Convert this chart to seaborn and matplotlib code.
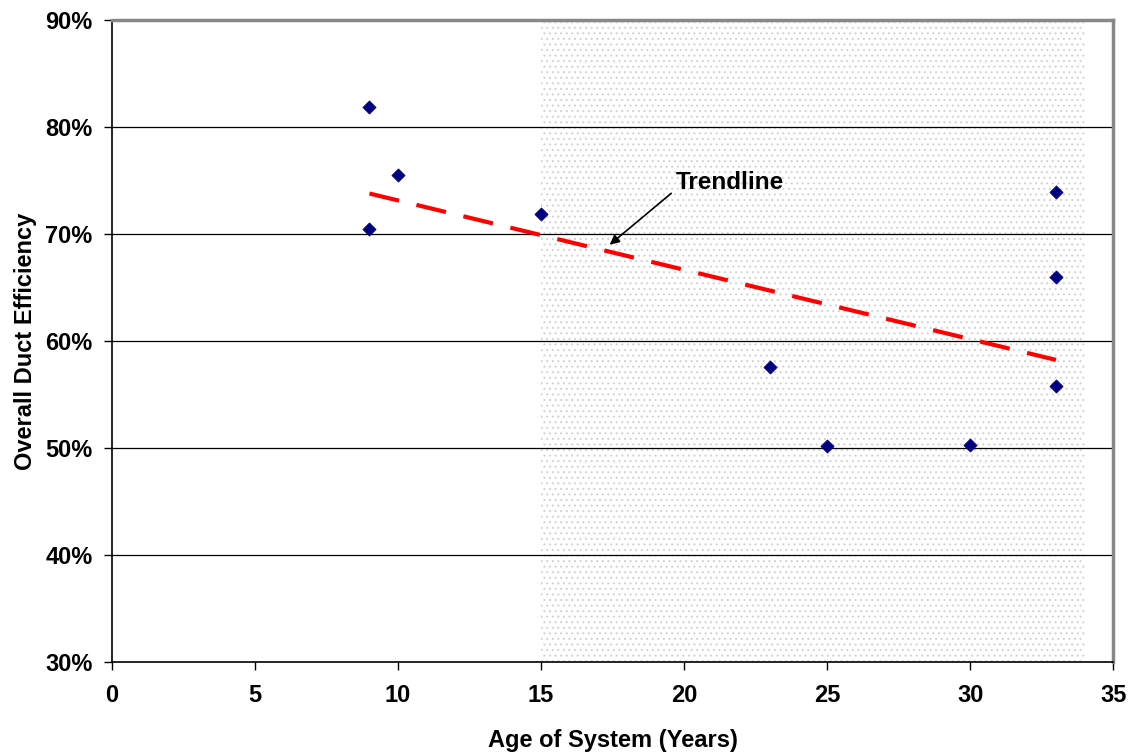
import numpy as np
import pandas as pd
import matplotlib
matplotlib.use("Agg")
import matplotlib.pyplot as plt
import seaborn as sns
from matplotlib.ticker import FuncFormatter, MultipleLocator

# data
age = [9, 9, 10, 15, 23, 25, 30, 33, 33, 33]
efficiency = [81.9, 70.5, 75.5, 71.9, 57.6, 50.2, 50.3, 73.9, 66.0, 55.8]
shade_span = [15, 34]

df = pd.DataFrame({"Age": age, "Eff": efficiency})

sns.set_style("white")
plt.rcParams["font.family"] = ["Liberation Sans", "DejaVu Sans"]
plt.rcParams["font.weight"] = "bold"
plt.rcParams["text.color"] = "black"
plt.rcParams["axes.labelcolor"] = "black"
plt.rcParams["xtick.color"] = "black"
plt.rcParams["ytick.color"] = "black"
plt.rcParams["hatch.linewidth"] = 0.8

fig = plt.figure(figsize=(11.38, 7.54), dpi=100)
ax = fig.add_axes([0.0984, 0.122, 0.8798, 0.8515])

# dotted shaded region
ax.axvspan(shade_span[0], shade_span[1], facecolor="white", edgecolor="#d4d4d4",
           hatch="...", linewidth=0, zorder=0)

# horizontal gridlines
for g in [40, 50, 60, 70, 80]:
    ax.axhline(g, color="black", lw=0.9, zorder=1)

sns.scatterplot(data=df, x="Age", y="Eff", marker="D", s=45, color="#000080",
                edgecolor="#000080", ax=ax, zorder=3)

# linear trendline
slope, icpt = np.polyfit(age, efficiency, 1)
xt = np.array([min(age), max(age)])
ax.plot(xt, slope * xt + icpt, color="#ff0000", lw=3, dashes=(7.3, 4.3), zorder=2)

ax.text(19.7, 74.8, "Trendline", fontsize=17.5, fontweight="bold",
        va="center", ha="left")
ax.annotate("", xy=(17.4, 69.0), xytext=(19.55, 73.8),
            arrowprops=dict(arrowstyle="-|>", color="black", lw=1.2,
                            mutation_scale=14, shrinkA=0, shrinkB=0))

ax.set_xlim(0, 35)
ax.set_ylim(30, 90)
ax.xaxis.set_major_locator(MultipleLocator(5))
ax.yaxis.set_major_locator(MultipleLocator(10))
ax.yaxis.set_major_formatter(FuncFormatter(lambda v, p: f"{v:.0f}%"))
ax.tick_params(axis="both", direction="out", length=6, width=1, labelsize=17,
               color="black", bottom=True, left=True)
for lab in ax.get_xticklabels() + ax.get_yticklabels():
    lab.set_fontweight("bold")
ax.tick_params(axis="x", pad=10)
ax.tick_params(axis="y", pad=8)

ax.set_xlabel("Age of System (Years)", fontsize=17, fontweight="bold", labelpad=16)
ax.set_ylabel("Overall Duct Efficiency", fontsize=17, fontweight="bold", labelpad=6)

for side in ["left", "bottom"]:
    ax.spines[side].set_color("black")
    ax.spines[side].set_linewidth(1.2)
for side in ["top", "right"]:
    ax.spines[side].set_color("#888888")
    ax.spines[side].set_linewidth(2.5)

fig.savefig("out.png", dpi=100)
